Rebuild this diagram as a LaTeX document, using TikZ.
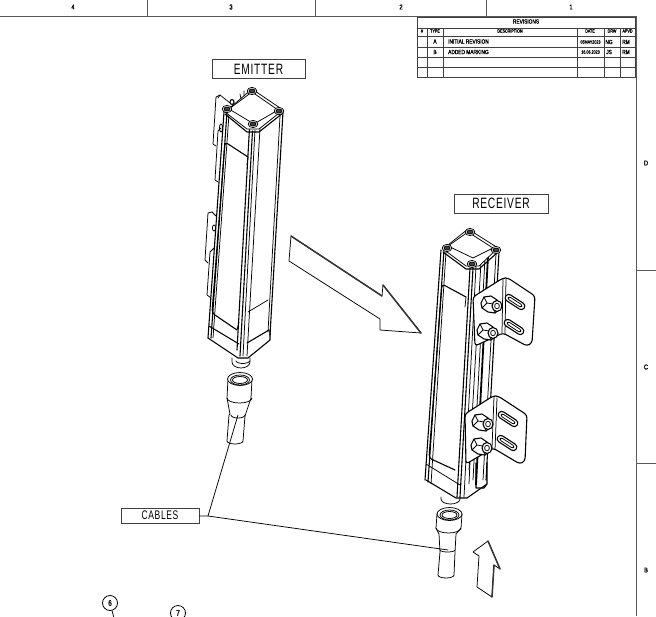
\documentclass[tikz,border=0pt]{standalone}
\usepackage{fontspec}
\setmainfont{Liberation Sans}
\newfontfamily\cadfont[FakeStretch=0.68,LetterSpace=5]{Liberation Sans}
\newfontfamily\cadbold[FakeStretch=0.8,FakeBold=1.5]{Liberation Sans}
\tikzset{
  ln/.style={draw=black,line width=0.75pt,line join=round,line cap=round},
  hv/.style={draw=black,line width=1.1pt,line join=round,line cap=round},
  frameline/.style={draw=black!65,line width=1pt},
  tbl/.style={draw=black!75,line width=0.9pt},
  labelbox/.style={draw=black!75,line width=0.9pt,fill=white,inner sep=0pt,font=\cadfont\fontsize{15}{15}\selectfont},
  zone/.style={font=\cadbold\fontsize{7}{7}\selectfont,inner sep=0pt},
  tabtxt/.style={font=\cadbold\fontsize{6}{6}\selectfont,inner sep=0pt},
  tabhead/.style={font=\cadbold\fontsize{4.6}{5}\selectfont,inner sep=0pt},
  balloon/.style={circle,draw=black,line width=0.8pt,minimum size=15pt,inner sep=0pt,font=\cadbold\fontsize{8}{8}\selectfont}
}
\newcommand{\boltcap}[2]{%
  \draw[ln,fill=white] (#1,#2) ellipse [x radius=4.8pt,y radius=3.6pt];
  \draw[ln,fill=black!75] (#1,#2) ellipse [x radius=3pt,y radius=2pt];
}
\newcommand{\nutpart}[2]{%
  \begin{scope}[shift={(#1,#2)}]
    \draw[hv,fill=white] (-11,-1) -- (-8,-7) -- (-1,-8) -- (5,-4) -- (8,4) -- (3,9) -- (-4,8) -- (-10,4) -- cycle;
    \draw[ln] (-8,-7) -- (-5,-1) -- (1,0) -- (5,-4) (-5,-1) -- (-10,4) (1,0) -- (3,9);
    \draw[hv,fill=white] (5,2) ellipse [x radius=5pt,y radius=5.5pt];
    \draw[ln] (5,2) ellipse [x radius=2.4pt,y radius=2.8pt];
  \end{scope}
}
\newcommand{\slotpart}[3]{%
  \begin{scope}[shift={(#1,#2)},rotate=#3]
    \draw[hv,rounded corners=3.4pt,fill=white] (-11,-3.5) rectangle (11,3.5);
    \draw[ln,rounded corners=2pt] (-8,-1.4) rectangle (8,1.4);
  \end{scope}
}
\begin{document}
\begin{tikzpicture}[x=1pt,y=-1pt]
\clip (0,0) rectangle (656,616);
\fill[white] (0,0) rectangle (656,616);
% frame
\draw[frameline] (0,16) -- (636,16) -- (636,616);
\draw[frameline] (147,0) -- (147,16) (315,0) -- (315,16) (486,0) -- (486,16);
\draw[frameline] (636,270) -- (656,270) (636,463) -- (656,463);
\node[zone] (z4) at (73,7) {4};
\node[zone] (z3) at (231,7) {3};
\node[zone] (z2) at (401,7) {2};
\node[zone] (z1) at (571,7) {1};
\node[zone] (zd) at (646,163) {D};
\node[zone] (zc) at (646,367) {C};
\node[zone] (zb) at (646,570) {B};
% revisions table
\draw[tbl,fill=white] (417,17) rectangle (635,77);
\draw[tbl] (417,28) -- (635,28) (417,36) -- (635,36) (417,47) -- (635,47) (417,57) -- (635,57) (417,67) -- (635,67);
\draw[tbl] (427,28) -- (427,77) (443,28) -- (443,77) (577,28) -- (577,77) (604,28) -- (604,77) (620,28) -- (620,77);
\node[tabtxt] (trev) at (526,21.5) {REVISIONS};
\node[tabhead] (h1) at (422,31) {\#};
\node[tabhead] (h2) at (435,31) {TYPE};
\node[tabhead] (h3) at (510,31) {DESCRIPTION};
\node[tabhead] (h4) at (590,31) {DATE};
\node[tabhead] (h5) at (612,31) {DRW};
\node[tabhead] (h6) at (627.5,31) {APVD};
\node[tabtxt] (a1) at (435,41.5) {A};
\node[tabtxt,anchor=west] (a2) at (448,41.5) {INITIAL REVISION};
\node[tabhead,anchor=center] (a3) at (590.5,42) {05MAY2023};
\node[tabtxt] (a4) at (609,42) {NG};
\node[tabtxt] (a5) at (626,42) {RM};
\node[tabtxt] (b1) at (435,52) {B};
\node[tabtxt,anchor=west] (b2) at (448,52) {ADDED MARKING};
\node[tabhead] (b3) at (590.5,52) {16.06.2023};
\node[tabtxt] (b4) at (609,52) {JS};
\node[tabtxt] (b5) at (626,52) {RM};
% labels
\node[labelbox,minimum width=93pt,minimum height=19.5pt] (emit) at (258.5,69) {EMITTER};
\node[labelbox,minimum width=94pt,minimum height=19pt] (recv) at (501,203.5) {RECEIVER};
\node[labelbox,minimum width=78pt,minimum height=15pt] (cables) at (160,515.5) {\fontsize{12.5}{13}\selectfont CABLES};
% emitter rear brackets (edge on)
\draw[ln] (230,103) -- (220,95) -- (216,97) -- (213,144) -- (216,146);
\draw[ln] (220,95) -- (218,98);
\draw[ln] (221,128) -- (218,131) -- (215,180) -- (218,182);
\draw[ln] (212,212) -- (208,213) -- (205,260) -- (208,263);
\draw[ln] (212,212) -- (216,216);
\draw[ln] (214,248) -- (210,252) -- (207,295) -- (211,298);
\draw[ln] (214,228) ellipse [x radius=1.6pt,y radius=3pt];
\draw[ln] (221,128) ellipse [x radius=1.6pt,y radius=4pt];
\draw[hv] (232,102) ellipse [x radius=2pt,y radius=2.5pt];
% emitter body
\draw[hv] (224,112) -- (208,338);
\draw[hv] (227,112) -- (211,338);
\draw[ln] (229,114) -- (213,338);
\draw[hv] (249.5,128) -- (237,350);
\draw[hv] (252.5,131) -- (240,356);
\draw[ln] (255,130) -- (243,356);
\draw[ln] (260,128) -- (247,356);
\draw[hv] (283,112) -- (270,335);
\draw[ln] (280,116) -- (268,332);
% emitter cap
\draw[ln,fill=white] (252,89) -- (283,110) -- (259,129) -- (247,129) -- (225,112) -- cycle;
\draw[ln] (252,92) -- (278,110) -- (254,124) -- (229,109) -- cycle;
\draw[hv] (225,114) -- (247,132) -- (259,132) -- (283,113);
\boltcap{252}{91}
\boltcap{227}{109}
\boltcap{253}{124}
\boltcap{279}{111}
\draw[ln] (240,94) -- (241,99) (244,91) -- (244,96);
% emitter windows and bands
\draw[hv,rounded corners=3pt] (248,157) -- (225,142) -- (212,313) -- (237,330);
\draw[ln] (248,157) -- (247,165);
\draw[hv] (209,326) -- (239,344);
\draw[hv] (247,343) -- (269,330);
\draw[ln] (248,312) -- (268,300);
\draw[ln] (237,330) -- (239,322);
% emitter bottom
\draw[ln] (232,358) -- (232,362) arc [start angle=180,end angle=360,x radius=9pt,y radius=6pt] -- (250,358);
\draw[ln] (236,361) arc [start angle=190,end angle=350,x radius=7pt,y radius=3pt];
\draw[hv] (208,338) -- (238,358) -- (248,358) -- (270,340) -- (270,330);
% emitter cable
\draw[ln,fill=white] (228,379) -- (227,398) -- (230,414) -- (229,415) -- (227,441) arc [start angle=180,end angle=360,x radius=8pt,y radius=3pt] -- (245,416) -- (251,398) -- (252,379) -- cycle;
\draw[ln,fill=white] (240,379) ellipse [x radius=12.5pt,y radius=6.5pt];
\draw[ln] (240,380) ellipse [x radius=9.5pt,y radius=5pt];
\draw[ln] (240,380) ellipse [x radius=7.5pt,y radius=3.5pt];
\draw[ln] (227,398) arc [start angle=180,end angle=360,x radius=12.5pt,y radius=5pt];
\draw[ln] (231,415) arc [start angle=180,end angle=360,x radius=7pt,y radius=3pt];
% big arrow
\draw[ln,fill=white] (291,236) -- (289,261) -- (380,319) -- (380,330) -- (421,333) -- (383,285) -- (382,296) -- cycle;
\draw[line width=1.5pt,black!80,line cap=round] (291,236) -- (382,296) (383,285) -- (421,333);
% receiver body
\draw[hv] (441,250) -- (425,480);
\draw[hv] (444,250) -- (428,482);
\draw[ln] (446,252) -- (431,484);
\draw[hv] (470,268) -- (457,497);
\draw[hv] (473,268) -- (460,497);
\draw[ln] (476,266) -- (464,497);
\draw[ln] (481,262) -- (469,470);
% rail
\draw[hv] (499,252) -- (486,480);
\draw[ln] (496,254) -- (483,480);
\draw[line width=1.8pt] (488,256) -- (476,485);
\draw[ln] (485,258) -- (473,480);
% receiver cap
\draw[ln,fill=white] (468,229) -- (498,248) -- (479,266) -- (466,266) -- (443,249) -- cycle;
\draw[ln] (468,232) -- (493,248) -- (473,258) -- (448,246) -- cycle;
\draw[hv] (443,252) -- (466,269) -- (479,269) -- (498,252);
\boltcap{470}{232}
\boltcap{447}{248}
\boltcap{472}{264}
\boltcap{496}{250}
% receiver window
\draw[hv,rounded corners=3pt] (466,297) -- (442,284) -- (429,458) -- (455,470);
\draw[ln] (466,297) -- (465,307);
\draw[ln] (426,464) -- (460,485);
% upper bracket
\draw[hv,fill=white,rounded corners=3pt] (473,297) -- (503,278) -- (508,278) -- (535,296) -- (532,343) -- (527,346) -- (503,333) -- (475,346) -- cycle;
\draw[ln] (503,279) -- (502,333) (506,279) -- (505,334);
\nutpart{492}{304}
\nutpart{488}{331}
\slotpart{515}{302}{-33}
\slotpart{514}{327}{-33}
% lower bracket
\draw[hv,fill=white,rounded corners=3pt] (465,414) -- (493,396) -- (498,396) -- (527,415) -- (525,461) -- (520,464) -- (493,448) -- (466,464) -- cycle;
\draw[ln] (494,397) -- (492,448) (497,398) -- (495,450);
\nutpart{483}{422}
\nutpart{482}{446}
\slotpart{508}{419}{-33}
\slotpart{507}{443}{-33}
% receiver bottom
\draw[ln] (441,497) -- (441,499) arc [start angle=180,end angle=360,x radius=9.5pt,y radius=5pt] -- (460,497);
\draw[hv] (426,480) -- (456,498) -- (467,498) -- (487,484);
\draw[hv] (476,463) -- (476,488) -- (484,488) -- (487,484) (487,463) -- (487,484);
\draw[ln] (470,462) -- (469,484);
% receiver cable
\draw[ln,fill=white] (437,514) -- (436,528) -- (439,534) -- (440,552) -- (438,575) arc [start angle=180,end angle=360,x radius=8pt,y radius=3pt] -- (455,552) -- (456,534) -- (461,528) -- (462,514) -- cycle;
\draw[ln,fill=white] (449.5,514) ellipse [x radius=12.5pt,y radius=6.5pt];
\draw[ln] (449.5,515) ellipse [x radius=9.5pt,y radius=5pt];
\draw[ln] (449.5,515) ellipse [x radius=7.5pt,y radius=3.5pt];
\draw[ln] (436,528) arc [start angle=180,end angle=360,x radius=12.5pt,y radius=5pt];
\draw[ln] (440,550) arc [start angle=180,end angle=360,x radius=7.5pt,y radius=2pt];
% up arrow
\draw[ln,fill=white] (488,541) -- (473,552) -- (479,556) -- (477,587) -- (492,597) -- (494,565) -- (500,569) -- cycle;
\draw[line width=1.5pt,black!80,line cap=round] (488,541) -- (500,569) (494,565) -- (492,597);
% leaders
\coordinate (jn) at (208,516);
\coordinate (endA) at (238,415);
\coordinate (endB) at (448,550);
\draw[ln] (cables.east |- jn) -- (jn) -- (endA);
\draw[ln] (jn) -- (endB);
% balloons
\node[balloon] (b6) at (110,603) {6};
\node[balloon] (b7) at (178,613) {7};
\coordinate (b6end) at (114,618);
\draw[ln] (b6) -- (b6end);
\end{tikzpicture}
\end{document}
